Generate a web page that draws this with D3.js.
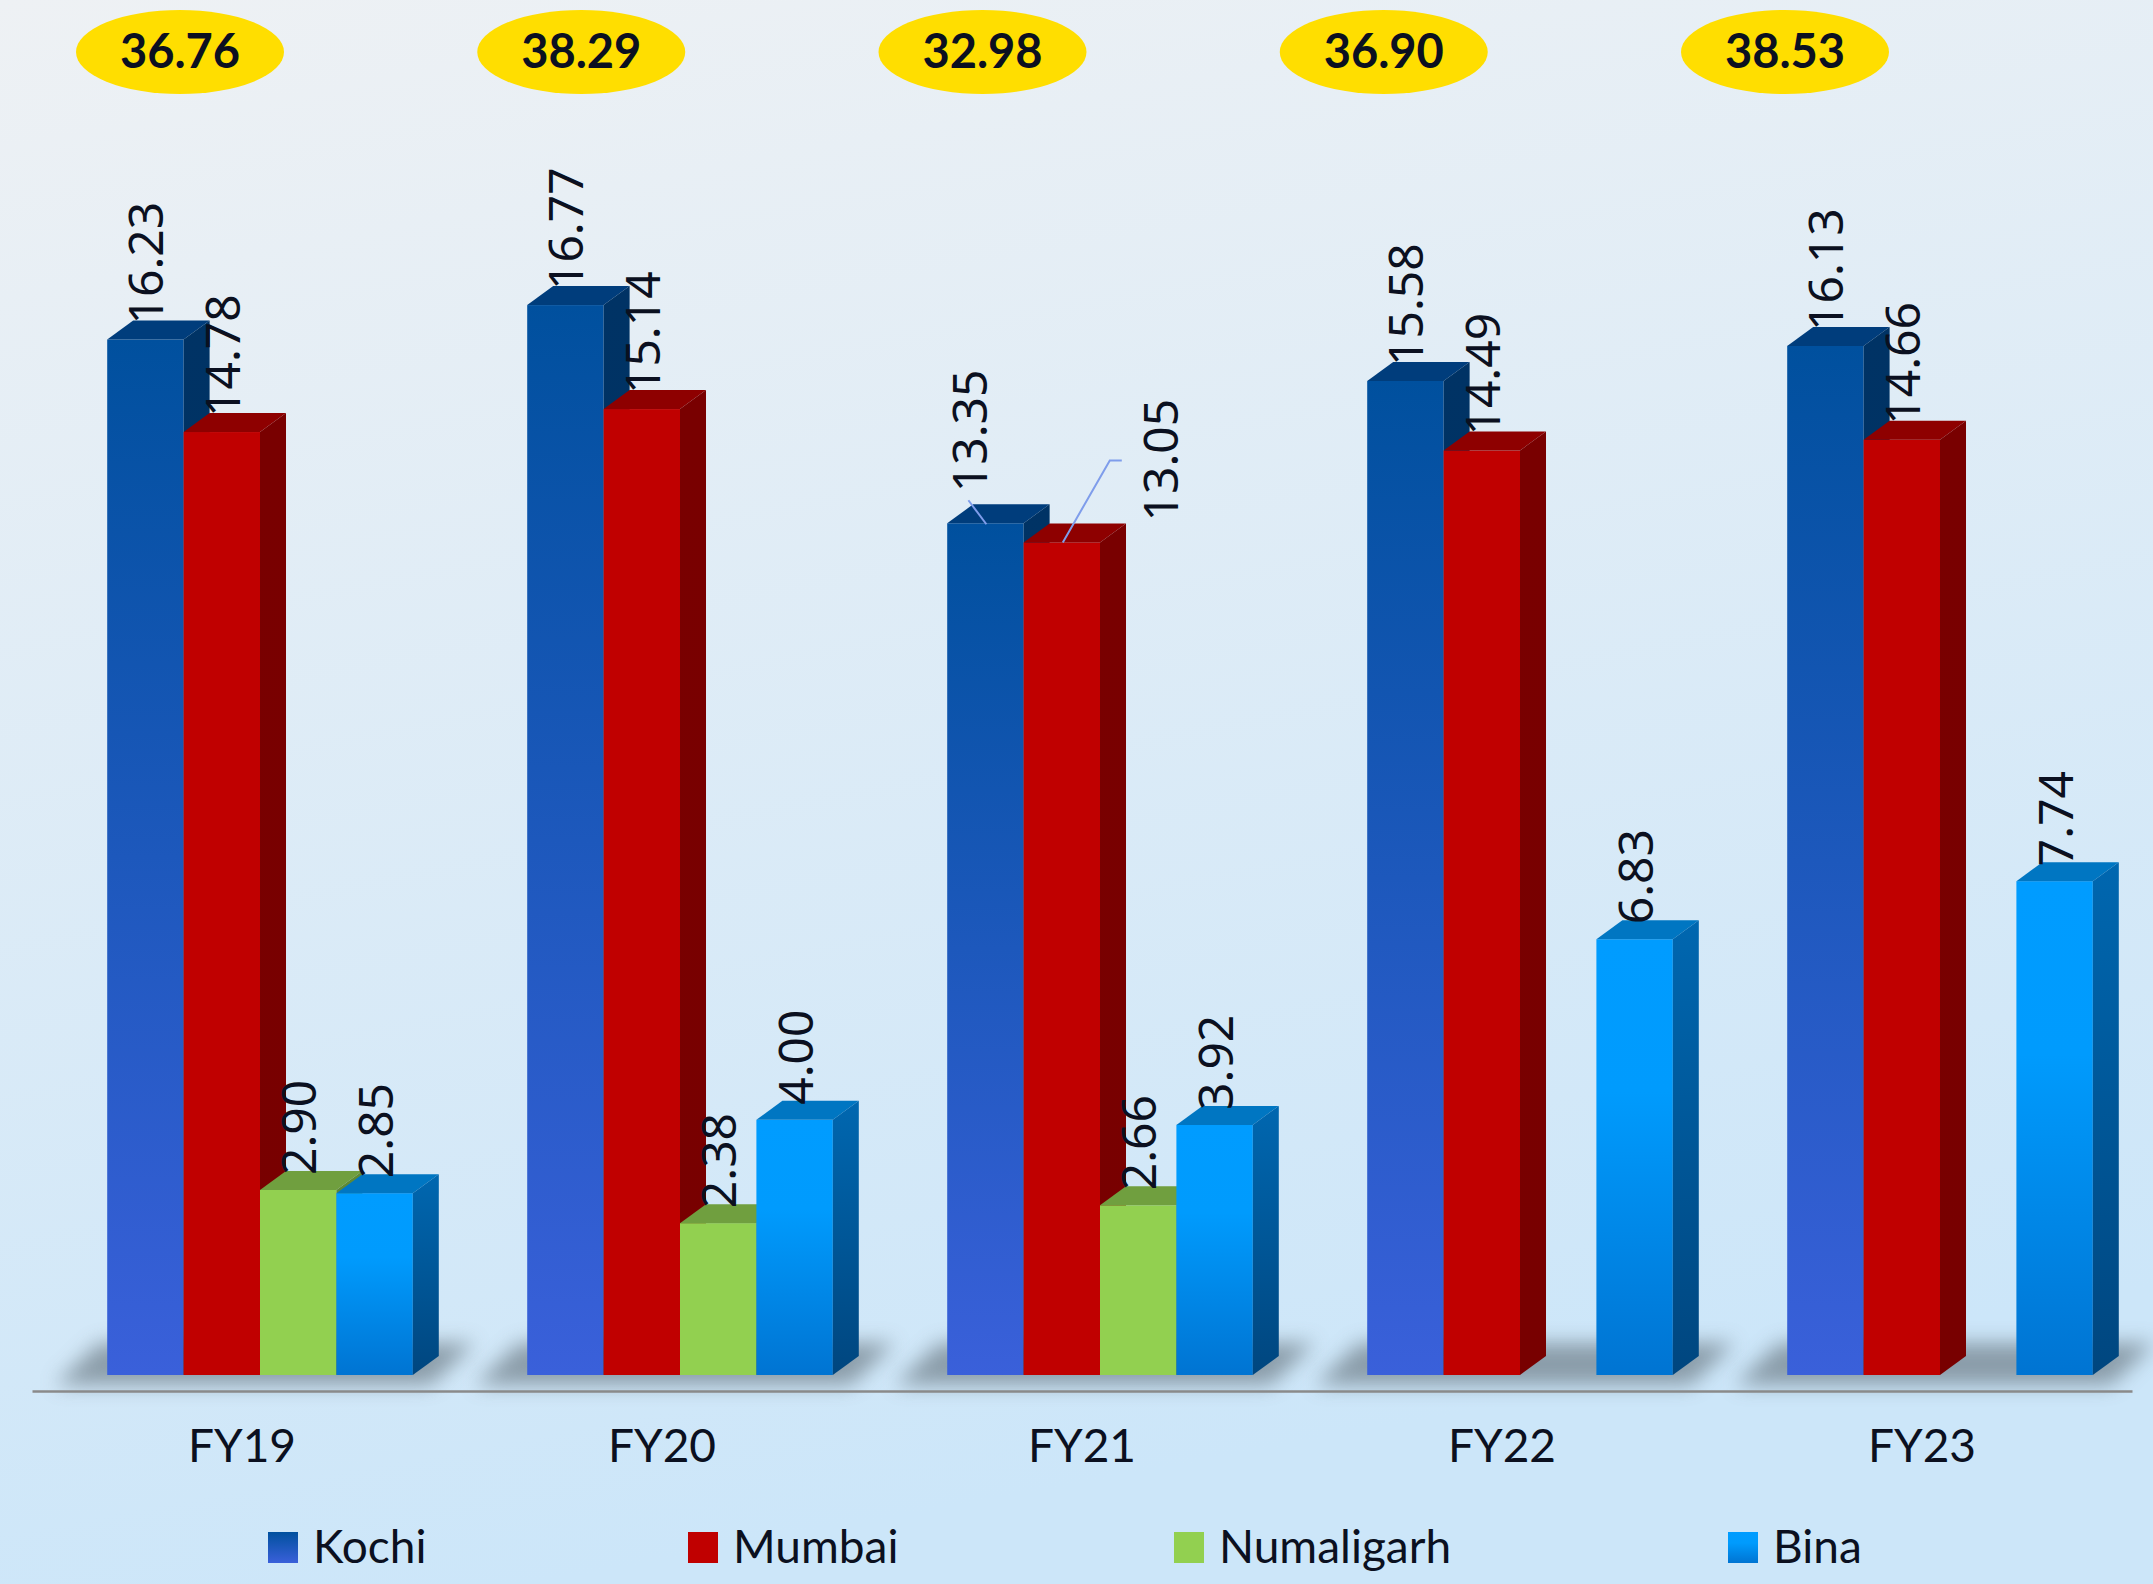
<!DOCTYPE html>
<html>
<head>
<meta charset="utf-8">
<script src="https://cdn.jsdelivr.net/npm/d3@7"></script>
<style>
  body { margin: 0; background: #e3edf5; }
  svg { display: block; }
  text { fill: #0b1020; }
</style>
</head>
<body>
<div class="canvas"></div>
<script>
// data
const categories = ["FY19", "FY20", "FY21", "FY22", "FY23"];
const series = ["Kochi", "Mumbai", "Numaligarh", "Bina"];
const kochi = [16.23, 16.77, 13.35, 15.58, 16.13];
const mumbai = [14.78, 15.14, 13.05, 14.49, 14.66];
const numaligarh = [2.90, 2.38, 2.66, null, null];
const bina = [2.85, 4.00, 3.92, 6.83, 7.74];
const values = [kochi, mumbai, numaligarh, bina];

const dims = { width: 2153, height: 1584 };
const base = 1375;         // floor line of the bars
const depth = { dx: 26, dy: 19 };

// face colours per series
const faces = {
  Kochi: { front: ["#00509e", "#3a60da"], top: "#003d7c", side: ["#003365", "#00305e"] },
  Mumbai: { front: ["#c00000", "#c00000"], top: "#8e0000", side: ["#790000", "#780000"] },
  Numaligarh: { front: ["#92d050", "#92d050"], top: "#709f3f", side: ["#5f8a34", "#5a8430"] },
  Bina: { front: ["#009cff", "#0074d2"], top: "#0076c2", side: ["#0067b0", "#00467f"] }
};

const svg = d3
  .select(".canvas")
  .append("svg")
  .attr("width", dims.width)
  .attr("height", dims.height);

const defs = svg.append("defs");

// background gradient
const bg = defs.append("linearGradient").attr("id", "bg")
  .attr("x1", 0).attr("y1", 0).attr("x2", 0.25).attr("y2", 1);
bg.append("stop").attr("offset", 0).attr("stop-color", "#eef1f4");
bg.append("stop").attr("offset", 1).attr("stop-color", "#cce6f9");

series.forEach((s, i) => {
  const f = faces[s];
  const g1 = defs.append("linearGradient").attr("id", "front" + i)
    .attr("x1", 0).attr("y1", 0).attr("x2", 0).attr("y2", 1);
  g1.append("stop").attr("offset", 0).attr("stop-color", f.front[0]);
  if (s === "Bina") g1.append("stop").attr("offset", 0.35).attr("stop-color", "#009bfd");
  g1.append("stop").attr("offset", 1).attr("stop-color", f.front[1]);
  const g2 = defs.append("linearGradient").attr("id", "side" + i)
    .attr("x1", 0).attr("y1", 0).attr("x2", 0).attr("y2", 1);
  g2.append("stop").attr("offset", 0).attr("stop-color", f.side[0]);
  g2.append("stop").attr("offset", 1).attr("stop-color", f.side[1]);
});

const blur = defs.append("filter").attr("id", "blur")
  .attr("x", "-20%").attr("y", "-100%").attr("width", "140%").attr("height", "300%");
blur.append("feGaussianBlur").attr("stdDeviation", 10);

svg.append("rect")
  .attr("width", dims.width)
  .attr("height", dims.height)
  .attr("fill", "url(#bg)");

// scales
const x0 = d3.scaleBand()
  .domain(categories)
  .range([50, 2150])
  .paddingInner(0.2724)
  .paddingOuter(0.1362);

const x1 = d3.scaleBand()
  .domain(series)
  .range([0, x0.bandwidth()]);

const y = d3.scaleLinear()
  .domain([0, 20])
  .range([base, 99]);

// floor shadows under each group
svg.append("g")
  .selectAll("path")
  .data(categories)
  .enter()
  .append("path")
  .attr("d", (c) => {
    const a = x0(c), b = a + x0.bandwidth();
    return `M${a - 52},${base + 10}L${b + 18},${base + 10}L${b + 62},${base - 32}L${a - 8},${base - 32}Z`;
  })
  .attr("fill", "#74848f")
  .attr("opacity", 0.75)
  .attr("filter", "url(#blur)");

// axis line + category labels
const xAxis = d3.axisBottom(x0).tickSize(0).tickSizeOuter(0).tickPadding(38);
const axisG = svg.append("g")
  .attr("transform", `translate(-18, 1391)`)
  .call(xAxis);
axisG.select(".domain").attr("stroke", "#8a8a8a").attr("stroke-width", 2.5);
axisG.selectAll("text")
  .attr("font-family", "Lato, 'Noto Sans', sans-serif")
  .attr("font-size", 46)
  .attr("fill", "#0b1020");

// flatten bars
const bars = [];
categories.forEach((c, ci) => {
  series.forEach((s, si) => {
    const v = values[si][ci];
    if (v == null) return;
    bars.push({ cat: c, ser: s, si, value: v });
  });
});

// bars, drawn left to right so later fronts cover earlier sides
const barG = svg.append("g");
bars.forEach((d) => {
  const xl = x0(d.cat) + x1(d.ser);
  const xr = xl + x1.bandwidth();
  const yt = y(d.value);
  const g = barG.append("g");
  g.append("rect")
    .attr("x", xl).attr("y", yt)
    .attr("width", x1.bandwidth()).attr("height", base - yt)
    .attr("fill", `url(#front${d.si})`);
  g.append("path")
    .attr("d", `M${xl},${yt}L${xr},${yt}L${xr + depth.dx},${yt - depth.dy}L${xl + depth.dx},${yt - depth.dy}Z`)
    .attr("fill", faces[d.ser].top);
  g.append("path")
    .attr("d", `M${xr},${yt}L${xr + depth.dx},${yt - depth.dy}L${xr + depth.dx},${base - depth.dy}L${xr},${base}Z`)
    .attr("fill", `url(#side${d.si})`);
});

// label tweaks for the crowded FY21 pair
const labelNudge = {
  "FY21|Kochi": { dx: -16, dy: -16, leader: [[1, 1], [-17, -23]] },
  "FY21|Mumbai": { dx: 98, dy: -6, leader: [[1, 0], [48, -82], [60, -82]] }
};

const labelG = svg.append("g");
bars.forEach((d) => {
  const xc = x0(d.cat) + x1(d.ser) + x1.bandwidth() / 2;
  const yt = y(d.value);
  const n = labelNudge[d.cat + "|" + d.ser] || { dx: 0, dy: 0 };
  if (n.leader) {
    labelG.append("path")
      .attr("d", d3.line()(n.leader.map((p) => [xc + p[0], yt + p[1]])))
      .attr("fill", "none")
      .attr("stroke", "#7f9deb")
      .attr("stroke-width", 2);
  }
  const tx = xc + 18 + n.dx;
  const ty = yt - depth.dy + 4 + n.dy;
  labelG.append("text")
    .attr("transform", `translate(${tx},${ty}) rotate(-90)`)
    .attr("font-family", "'Noto Sans', 'Open Sans', sans-serif")
    .attr("font-size", 48)
    .text(d.value.toFixed(2));
});

// totals in yellow ellipses
const xe = d3.scalePoint().domain(categories).range([180, 1785]);
const totals = categories.map((c, ci) => d3.sum(values, (arr) => arr[ci] || 0));
const totG = svg.append("g")
  .selectAll("g")
  .data(categories)
  .enter()
  .append("g")
  .attr("transform", (c) => `translate(${xe(c)}, 52)`);
totG.append("ellipse")
  .attr("rx", 104).attr("ry", 42)
  .attr("fill", "#ffde00");
totG.append("text")
  .attr("text-anchor", "middle")
  .attr("y", 16)
  .attr("font-family", "Lato, 'Open Sans', sans-serif")
  .attr("font-weight", "bold")
  .attr("font-size", 47)
  .text((c, i) => totals[i].toFixed(2));

// legend
const legX = d3.scaleOrdinal().domain(series).range([268, 688, 1174, 1728]);
const legFill = ["url(#front0)", "#c00000", "#92d050", "url(#front3)"];
const legItem = svg.append("g")
  .selectAll("g")
  .data(series)
  .enter()
  .append("g")
  .attr("transform", (s) => `translate(${legX(s)}, 1532)`);
legItem.append("rect")
  .attr("width", 30).attr("height", 31)
  .attr("fill", (s, i) => legFill[i]);
legItem.append("text")
  .attr("x", 45).attr("y", 31)
  .attr("font-family", "Lato, 'Noto Sans', sans-serif")
  .attr("font-size", 46)
  .text((s) => s);
</script>
</body>
</html>
